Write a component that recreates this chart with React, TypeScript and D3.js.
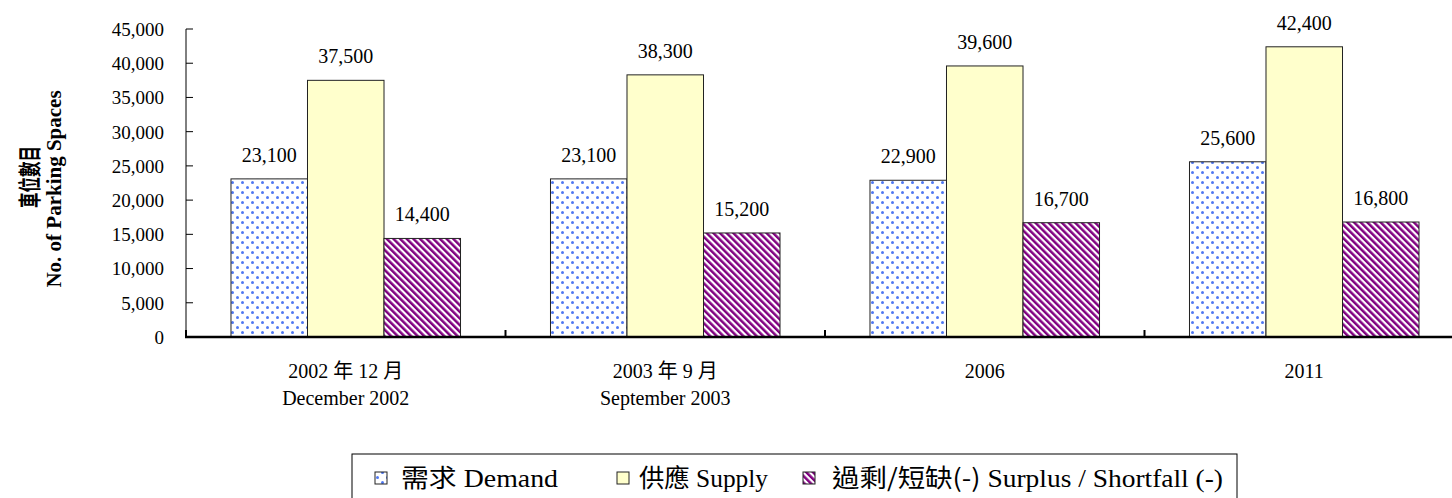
import React, { useEffect } from "react";
import * as d3 from "d3";

const categoryLine1 = ["2002 年 12 月", "2003 年 9 月", "2006", "2011"];
const categoryLine2 = ["December 2002", "September 2003", "", ""];
const demand = [23100, 23100, 22900, 25600];
const supply = [37500, 38300, 39600, 42400];
const surplus = [14400, 15200, 16700, 16800];
const yTickValues = [0, 5000, 10000, 15000, 20000, 25000, 30000, 35000, 40000, 45000];
const seriesKeys = ["demand", "supply", "surplus"];
const seriesLabelsZh = ["需求", "供應", "過剩/短缺(-)"];
const seriesLabelsEn = ["Demand", "Supply", "Surplus / Shortfall (-)"];
const yTitleZh = "車位數目";
const yTitleEn = "No. of Parking Spaces";

const W = 1452;
const H = 498;
const SERIF = "'Liberation Serif', 'Times New Roman', serif";
const CJK = "'Noto Sans CJK TC', 'Noto Sans CJK SC', sans-serif";
const FONT = "'Liberation Serif', 'Noto Sans CJK TC', serif";

const seriesFill: Record<string, string> = {
  demand: "url(#patDemand)",
  supply: "#FFFFCC",
  surplus: "url(#patSurplus)",
};

export default function App() {
  useEffect(() => {
    document.body.style.margin = "0";
    document.body.style.overflow = "hidden";
  }, []);

  const x0 = 186;
  const band = 319.5;
  const x = d3
    .scaleBand<number>()
    .domain(categoryLine1.map((_, i) => i))
    .range([x0, x0 + band * categoryLine1.length])
    .paddingInner(0)
    .paddingOuter(0);
  const xs = d3
    .scaleBand<string>()
    .domain(seriesKeys)
    .range([0, x.bandwidth()])
    .paddingInner(0)
    .paddingOuter(0.588);
  const y = d3.scaleLinear().domain([0, 45000]).range([337, 29]);
  const fmt = d3.format(",");

  const seriesData: Record<string, number[]> = { demand, supply, surplus };

  const legendSwatchX = [375, 617, 803];
  const legendTextX = [401, 639, 832];
  const legendTextLen = [157, 129, 391];

  return (
    <svg width={W} height={H} style={{ display: "block" }} fontFamily={FONT}>
      <defs>
        <pattern id="patDemand" patternUnits="userSpaceOnUse" width={10} height={10}>
          <rect width={10} height={10} fill="#ffffff" />
          <circle cx={2.5} cy={2.5} r={1.5} fill="#4f78f2" />
          <circle cx={7.5} cy={7.5} r={1.5} fill="#4f78f2" />
        </pattern>
        <pattern
          id="patSurplus"
          patternUnits="userSpaceOnUse"
          width={4.7}
          height={4.7}
          patternTransform="rotate(-45)"
        >
          <rect width={4.7} height={4.7} fill="#ffffff" />
          <rect width={2.5} height={4.7} fill="#800080" />
        </pattern>
      </defs>
      <rect width={W} height={H} fill="#ffffff" />

      {/* bars */}
      {categoryLine1.map((_, i) =>
        seriesKeys.map((k) => {
          const v = seriesData[k][i];
          const bx = (x(i) as number) + (xs(k) as number);
          return (
            <rect
              key={`${k}-${i}`}
              x={bx}
              y={y(v)}
              width={xs.bandwidth()}
              height={y(0) - y(v)}
              fill={seriesFill[k]}
              stroke="#222"
              strokeWidth={1}
            />
          );
        })
      )}

      {/* value labels */}
      {categoryLine1.map((_, i) =>
        seriesKeys.map((k) => {
          const v = seriesData[k][i];
          const cx = (x(i) as number) + (xs(k) as number) + xs.bandwidth() / 2;
          return (
            <text
              key={`l-${k}-${i}`}
              x={cx}
              y={y(v) - 17}
              textAnchor="middle"
              fontSize={20}
              fontFamily={SERIF}
              fill="#000"
            >
              {fmt(v)}
            </text>
          );
        })
      )}

      {/* y axis */}
      <line x1={x0} x2={x0} y1={y(45000)} y2={y(0)} stroke="#000" strokeWidth={1} />
      {yTickValues.map((t) => (
        <g key={`yt-${t}`}>
          <line x1={x0} x2={x0 + 7} y1={y(t)} y2={y(t)} stroke="#000" strokeWidth={1} />
          <text
            x={164}
            y={y(t)}
            dy="0.36em"
            textAnchor="end"
            fontSize={19}
            fontFamily={SERIF}
            fill="#000"
          >
            {fmt(t)}
          </text>
        </g>
      ))}

      {/* x axis */}
      <line x1={x0 - 1} x2={W} y1={y(0)} y2={y(0)} stroke="#000" strokeWidth={2.5} />
      {categoryLine1.map((_, i) => (
        <line
          key={`xt-${i}`}
          x1={x(i) as number}
          x2={x(i) as number}
          y1={y(0) - 7}
          y2={y(0)}
          stroke="#000"
          strokeWidth={2}
        />
      ))}
      {categoryLine1.map((c, i) => {
        const cx = (x(i) as number) + x.bandwidth() / 2;
        return (
          <g key={`xl-${i}`}>
            <text x={cx} y={378} textAnchor="middle" fontSize={20} fill="#000">
              {c}
            </text>
            {categoryLine2[i] && (
              <text
                x={cx}
                y={405}
                textAnchor="middle"
                fontSize={20}
                fontFamily={SERIF}
                fill="#000"
              >
                {categoryLine2[i]}
              </text>
            )}
          </g>
        );
      })}

      {/* y title */}
      <text
        transform="translate(38,177) rotate(-90)"
        x={-31}
        fontSize={23}
        fontWeight="bold"
        fontFamily={CJK}
        fill="#000"
        textLength={62}
        lengthAdjust="spacingAndGlyphs"
      >
        {yTitleZh}
      </text>
      <text
        transform="translate(61,189) rotate(-90)"
        textAnchor="middle"
        fontSize={21}
        fontWeight="bold"
        fontFamily={SERIF}
        fill="#000"
      >
        {yTitleEn}
      </text>

      {/* legend */}
      <rect x={352} y={454} width={885} height={80} fill="#fff" stroke="#000" strokeWidth={1} />
      {seriesKeys.map((k, i) => (
        <g key={`lg-${k}`}>
          <rect
            x={legendSwatchX[i]}
            y={472}
            width={12}
            height={12}
            fill={seriesFill[k]}
            stroke="#222"
            strokeWidth={1}
          />
          <text
            x={legendTextX[i]}
            y={487}
            fontSize={25}
            fill="#000"
            textLength={legendTextLen[i]}
            lengthAdjust="spacingAndGlyphs"
          >
            <tspan fontFamily={CJK}>{seriesLabelsZh[i]}</tspan>
            <tspan fontFamily={SERIF}>{" " + seriesLabelsEn[i]}</tspan>
          </text>
        </g>
      ))}
    </svg>
  );
}
